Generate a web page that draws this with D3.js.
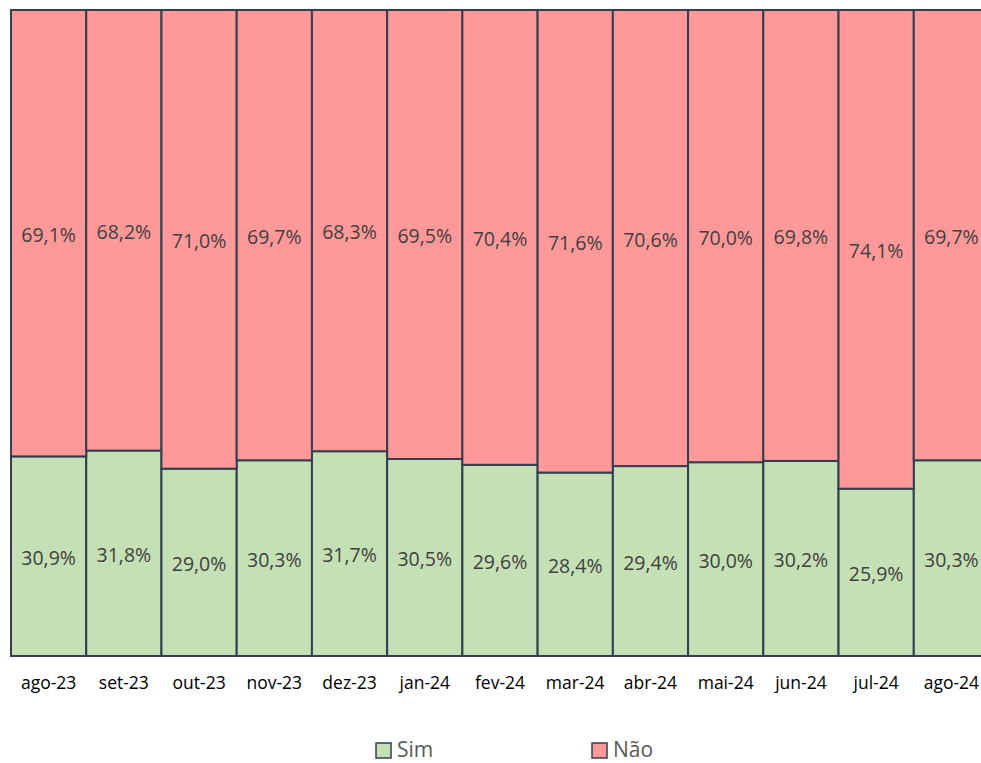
<!DOCTYPE html>
<html>
<head>
<meta charset="utf-8">
<script src="https://cdn.jsdelivr.net/npm/d3@7"></script>
<style>
  body { margin: 0; background: #fff; overflow: hidden; }
  text { font-family: "Open Sans", "Noto Sans", sans-serif; }
</style>
</head>
<body>
<div id="chart"></div>
<script>
const months = ['ago-23', 'set-23', 'out-23', 'nov-23', 'dez-23', 'jan-24', 'fev-24',
  'mar-24', 'abr-24', 'mai-24', 'jun-24', 'jul-24', 'ago-24']
const sim = [30.9, 31.8, 29.0, 30.3, 31.7, 30.5, 29.6, 28.4, 29.4, 30.0, 30.2, 25.9, 30.3]
const nao = [69.1, 68.2, 71.0, 69.7, 68.3, 69.5, 70.4, 71.6, 70.6, 70.0, 69.8, 74.1, 69.7]
const seriesNames = ['Sim', 'Não']
const colors = ['#C5E0B4', '#FF9999']

const WIDTH = 981
const HEIGHT = 763

const rows = months.map((m, i) => ({ month: m, Sim: sim[i], 'Não': nao[i] }))
const stacked = d3.stack().keys(seriesNames).offset(d3.stackOffsetExpand)(rows)

const x = d3.scaleBand().domain(months).range([11, 989]).padding(0)
const y = d3.scaleLinear().domain([0, 1]).range([656, 10])
const fmt = (v) => v.toFixed(1).replace('.', ',') + '%'

const svg = d3.select('#chart')
  .append('svg')
    .attr('width', WIDTH)
    .attr('height', HEIGHT)

const groups = svg.append('g')
  .selectAll('g')
  .data(stacked)
  .join('g')
    .attr('fill', (d, i) => colors[i])

groups.selectAll('rect')
  .data((d) => d)
  .join('rect')
    .attr('x', (d) => x(d.data.month))
    .attr('y', (d) => y(d[1]))
    .attr('width', x.bandwidth())
    .attr('height', (d) => y(d[0]) - y(d[1]))
    .attr('stroke', '#333F50')
    .attr('stroke-width', 2)

groups.each(function (s) {
  d3.select(this).selectAll('text')
    .data(s)
    .join('text')
      .attr('x', (d) => x(d.data.month) + x.bandwidth() / 2)
      .attr('y', (d) => (y(d[0]) + y(d[1])) / 2 + 2)
      .attr('dy', '0.35em')
      .attr('text-anchor', 'middle')
      .attr('fill', '#404040')
      .attr('font-size', 19.5)
      .text((d) => fmt(d.data[s.key]))
})

svg.append('g')
  .attr('transform', 'translate(0,656)')
  .call(d3.axisBottom(x).tickSize(0).tickPadding(21))
  .call((g) => g.select('.domain').remove())
  .call((g) => g.selectAll('text')
    .attr('font-size', 17.5)
    .attr('fill', '#000'))

const legendX = [376, 592]
const legend = svg.append('g')
  .selectAll('g')
  .data(seriesNames)
  .join('g')
    .attr('transform', (d, i) => `translate(${legendX[i]},743)`)

legend.append('rect')
  .attr('width', 15)
  .attr('height', 15)
  .attr('fill', (d, i) => colors[i])
  .attr('stroke', '#333F50')
  .attr('stroke-width', 1.5)

legend.append('text')
  .attr('x', 21)
  .attr('y', 7)
  .attr('dy', '0.32em')
  .attr('font-size', 21)
  .attr('fill', '#595959')
  .text((d) => d)
</script>
</body>
</html>
